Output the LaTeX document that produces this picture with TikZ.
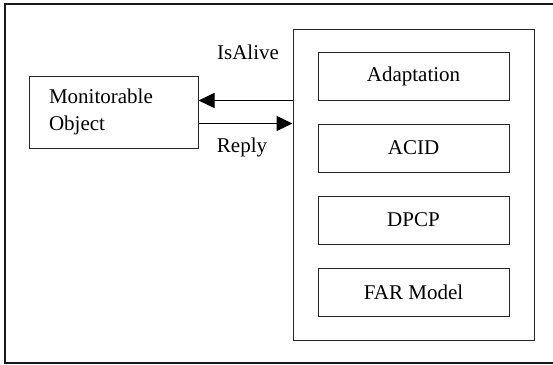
\documentclass[tikz,border=0pt]{standalone}
\usepackage{fontspec}
\setmainfont{Liberation Serif}
\usetikzlibrary{arrows.meta}
\begin{document}
\begin{tikzpicture}[x=1pt,y=-1pt,
  every node/.style={font=\fontsize{21}{27.5}\selectfont},
  box/.style={draw=black!85, line width=1pt, inner sep=0pt},
  part/.style={box, minimum width=191pt, minimum height=48pt},
  msg/.style={draw=black, line width=1pt, -{Triangle[length=16pt,width=15pt]}},
  lbl/.style={inner sep=0pt}]
  \useasboundingbox (0,0) rectangle (553,364);
  % outer frame (right side runs off the page)
  \draw[line width=1.8pt, black!90] (555,4) -- (5,4) -- (5,363) -- (555,363);

  % monitored object
  \node[box, minimum width=169pt, minimum height=72pt, text width=129pt,
        inner xsep=20pt, align=left] (mon) at (113.5,112) {Monitorable\\Object};

  % monitor container and its parts
  \node[box, minimum width=241pt, minimum height=311pt] (cont) at (413.5,184.5) {};
  \node[part] (adapt) at (413.5,76)  {Adaptation};
  \node[part] (acid)  at (413.5,148) {ACID};
  \node[part] (dpcp)  at (413.5,220) {DPCP};
  \node[part] (far)   at (413.5,292) {FAR Model};

  % messages
  \draw[msg] (cont.west |- adapt.south) -- (mon.east |- adapt.south);
  \draw[msg] (mon.east |- acid.north) -- (cont.west |- acid.north);
  \node[lbl] (isalive) at (248,52) {IsAlive};
  \node[lbl] (reply) at (242,147) {Reply};
\end{tikzpicture}
\end{document}
